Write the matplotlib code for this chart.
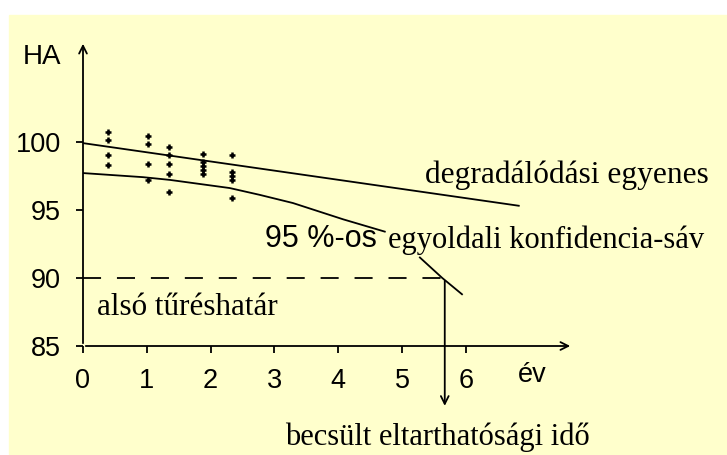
import matplotlib.pyplot as plt
from matplotlib.patches import Rectangle

# measured values (year, HA %)
pts_x = [0.39] * 4 + [1.02] * 4 + [1.35] * 5 + [1.88] * 5 + [2.33] * 5
pts_y = [100.7, 100.1, 99.0, 98.3,
         100.4, 99.8, 98.4, 97.2,
         99.6, 99.0, 98.4, 97.6, 96.3,
         99.1, 98.5, 98.2, 97.9, 97.6,
         99.0, 97.8, 97.5, 97.2, 95.9]

# degradation line (regression)
reg_x = [0, 6.83]
reg_y = [99.9, 95.3]

# one-sided 95 % confidence limit, two visible pieces
conf_x1 = [0, 0.94, 1.36, 2.3, 2.77, 3.29, 4.08, 4.73]
conf_y1 = [97.7, 97.4, 97.2, 96.6, 96.1, 95.5, 94.3, 93.4]
conf_x2 = [5.28, 5.63, 5.94]
conf_y2 = [91.5, 90.0, 88.8]

limit = 90
shelf_life = 5.67

xticks = [0, 1, 2, 3, 4, 5, 6]
yticks = [85, 90, 95, 100]

bg = '#ffffcc'
plt.rcParams['font.family'] = 'Liberation Sans'

fig = plt.figure(figsize=(7.27, 4.55), dpi=100)
fig.add_artist(Rectangle((9 / 727, 0), 718 / 727, 440 / 455,
                         transform=fig.transFigure, color=bg, zorder=-10))

ax = fig.add_axes([83 / 727, 109 / 455, 490 / 727, 305 / 455])
ax.set_facecolor('none')
ax.set_xlim(0, 7.68)
ax.set_ylim(85, 107.4)
for s in ax.spines.values():
    s.set_visible(False)

# axes with arrow heads
arr = dict(arrowstyle='->', lw=1.3, color='black', mutation_scale=14)
ax.annotate('', xy=(1, 0), xytext=(0, 0), xycoords='axes fraction', arrowprops=arr)
ax.annotate('', xy=(0, 1), xytext=(0, 0), xycoords='axes fraction', arrowprops=arr)

ax.set_xticks(xticks)
ax.set_yticks(yticks)
ax.tick_params(axis='both', direction='out', length=5, width=1.3, labelsize=19.5)
ax.tick_params(axis='x', pad=11)
ax.tick_params(axis='y', pad=11)

ax.plot(pts_x, pts_y, '+', color='black', ms=5, mew=1.8, zorder=4)
ax.plot(reg_x, reg_y, color='black', lw=1.3)
ax.plot(conf_x1, conf_y1, color='black', lw=1.3)
ax.plot(conf_x2, conf_y2, color='black', lw=1.3, clip_on=False)

ax.plot([0, shelf_life], [limit, limit], color='black', lw=1.3,
        dashes=(10, 8.8))
ax.annotate('', xy=(shelf_life, 80.4), xytext=(shelf_life, limit),
            xycoords='data', arrowprops=arr, annotation_clip=False)

serif = 'Liberation Serif'
ax.text(-0.65, 106.25, 'HA', fontsize=20, ha='center', va='center', clip_on=False)
ax.text(6.82, 82.9, 'év', fontsize=19.5, ha='left', va='center', clip_on=False)
ax.text(5.36, 97.0, 'degradálódási egyenes', family=serif, fontsize=22.6,
        ha='left', va='baseline', clip_on=False)
ax.text(2.86, 92.28, '95 %-os', fontsize=22, ha='left', va='baseline')
ax.text(4.78, 92.2, 'egyoldali konfidencia-sáv', family=serif, fontsize=22,
        ha='left', va='baseline', clip_on=False)
ax.text(0.22, 87.28, 'alsó tűréshatár', family=serif, fontsize=22.4,
        ha='left', va='baseline')
ax.text(3.17, 77.72, 'becsült eltarthatósági idő', family=serif, fontsize=22,
        ha='left', va='baseline', clip_on=False)

fig.savefig('out.png', dpi=100)
